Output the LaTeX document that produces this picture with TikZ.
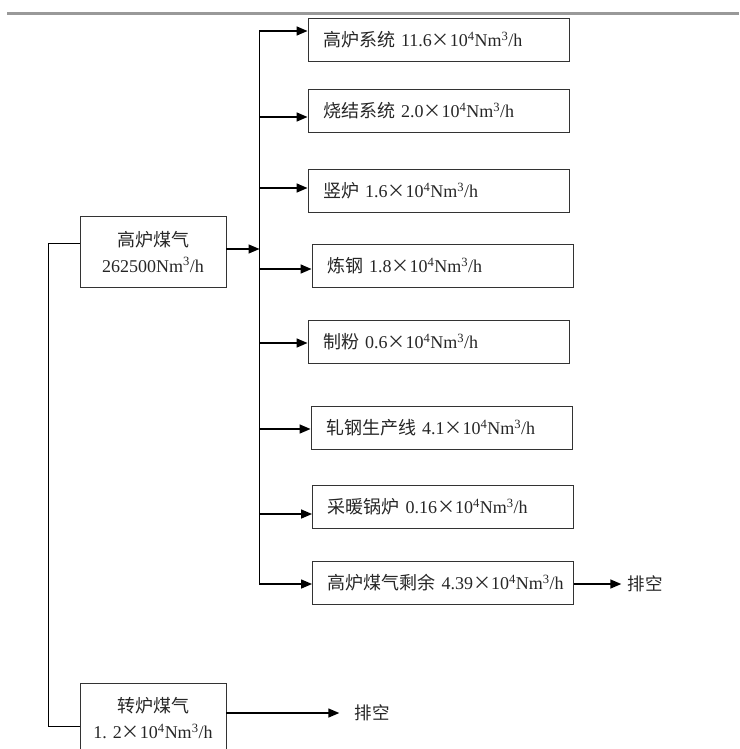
\documentclass[tikz,border=0pt]{standalone}
\usepackage{fontspec}
\setmainfont{Liberation Serif}
\newfontfamily\cjk{Noto Sans CJK SC}
\usepackage{tikz}
\usetikzlibrary{positioning,arrows.meta}

\newcommand{\tenfour}{{\cjk ×}10\textsuperscript{4}}
\newcommand{\nmh}{Nm\textsuperscript{3}/h}

\begin{document}
\begin{tikzpicture}[x=1pt,y=-1pt,
 box/.style={draw=black!80,line width=0.9pt,align=left,text width=231pt,inner xsep=15pt,
             minimum height=43pt,font=\fontsize{18}{22}\selectfont,text=black!85},
 src/.style={draw=black!80,line width=0.9pt,align=center,minimum width=146pt,minimum height=71pt,
             font=\fontsize{18}{26}\selectfont,text=black!85},
 wire/.style={line width=1.4pt},
 arr/.style={wire,-{Triangle[length=11pt,width=9pt]}},
 vent/.style={font=\fontsize{17.5}{22}\selectfont,text=black!85,inner sep=2pt}
]
\useasboundingbox (0,0) rectangle (739,749);
\draw[black!40,line width=3pt] (7,14) -- (739,14);

\node[src] (bf) at (153,251.5) {{\cjk 高炉煤气}\\262500\nmh};
\node[src] (conv) at (153,718.5) {{\cjk 转炉煤气}\\1. 2\tenfour\nmh};

\node[box] (bfs) at (438.5,39.5) {{\cjk 高炉系统}~11.6\tenfour\nmh};
\node[box] (sint) at (438.5,110.5) {{\cjk 烧结系统}~2.0\tenfour\nmh};
\node[box] (shaft) at (438.5,191) {{\cjk 竖炉}~1.6\tenfour\nmh};
\node[box] (steel) at (442.5,265.5) {{\cjk 炼钢}~1.8\tenfour\nmh};
\node[box] (pulv) at (438.5,342) {{\cjk 制粉}~0.6\tenfour\nmh};
\node[box] (roll) at (441.5,428) {{\cjk 轧钢生产线}~4.1\tenfour\nmh};
\node[box] (heat) at (443,507) {{\cjk 采暖锅炉}~0.16\tenfour\nmh};
\node[box] (surp) at (443,583) {{\cjk 高炉煤气剩余}~4.39\tenfour\nmh};

\node[vent] (vent1) at (645,584) {\cjk 排空};
\node[vent] (vent2) at (372,713) {\cjk 排空};

% distribution bus
\coordinate (b1) at (259.5,31);
\coordinate (b2) at (259.5,117);
\coordinate (b3) at (259.5,188);
\coordinate (b4) at (259.5,269);
\coordinate (b5) at (259.5,343);
\coordinate (b6) at (259.5,429);
\coordinate (b7) at (259.5,514);
\coordinate (b8) at (259.5,584);
\draw[wire,line cap=rect] (b1) -- (b8);

\draw[arr] (bf.east |- 0,249) -- (b1 |- 0,249);
\draw[arr] (b1) -- (b1 -| bfs.west);
\draw[arr] (b2) -- (b2 -| sint.west);
\draw[arr] (b3) -- (b3 -| shaft.west);
\draw[arr] (b4) -- (b4 -| steel.west);
\draw[arr] (b5) -- (b5 -| pulv.west);
\draw[arr] (b6) -- (b6 -| roll.west);
\draw[arr] (b7) -- (b7 -| heat.west);
\draw[arr] (b8) -- (b8 -| surp.west);

% vents
\draw[arr,shorten >=4pt] (surp.east |- vent1) -- (vent1.west);
\draw[arr,shorten >=13pt] (conv.east |- vent2) -- (vent2.west);

% link between the two sources
\coordinate (l1) at (48,243);
\coordinate (l2) at (48,726);
\draw[line width=1pt] (bf.west |- l1) -- (l1) -- (l2) -- (conv.west |- l2);
\end{tikzpicture}
\end{document}
